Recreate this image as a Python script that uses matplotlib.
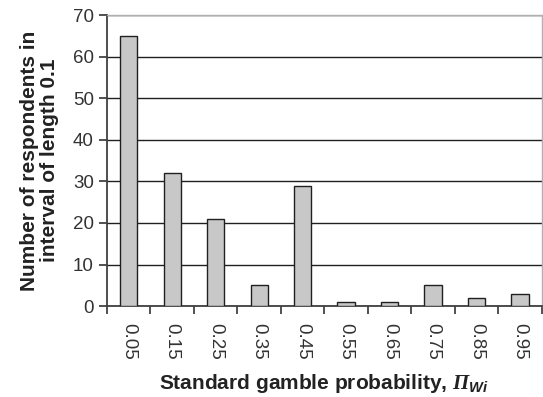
import numpy as np
import matplotlib.pyplot as plt

plt.rcParams['font.family'] = ['Liberation Sans', 'DejaVu Sans']
plt.rcParams['mathtext.fontset'] = 'custom'
plt.rcParams['mathtext.rm'] = 'Liberation Sans'
plt.rcParams['mathtext.bf'] = 'Liberation Sans:bold'
plt.rcParams['mathtext.bfit'] = 'Liberation Serif:bold:italic'
plt.rcParams['mathtext.sf'] = 'Liberation Sans:bold:italic'

# Data
bins = ['0.05', '0.15', '0.25', '0.35', '0.45', '0.55', '0.65', '0.75', '0.85', '0.95']
counts = [65, 32, 21, 5, 29, 1, 1, 5, 2, 3]

fig = plt.figure(figsize=(5.43, 3.97), dpi=100)
ax = fig.add_axes([0.197, 0.229, 0.801, 0.733])

x = np.arange(len(bins))
ax.bar(x, counts, width=0.4, color='#c8c8c8', edgecolor='#202020', linewidth=1.0, zorder=3)

ax.set_xlim(-0.5, len(bins) - 0.5)
ax.set_ylim(0, 70)
ax.set_yticks(range(0, 71, 10))
ax.yaxis.grid(True, color='#202020', linewidth=1.0, zorder=0)
ax.set_axisbelow(True)

ax.set_xticks(x)
ax.set_xticklabels(bins, rotation=270, fontsize=13.5, color='#333333')
ax.set_xticks(np.arange(-0.5, len(bins)), minor=True)
ax.tick_params(axis='x', which='major', length=0, pad=12)
ax.tick_params(axis='x', which='minor', length=6, width=1.2, color='#333333', direction='out')
ax.tick_params(axis='y', length=6, width=1.2, color='#333333', labelsize=13.5, labelcolor='#333333')

for s in ['left', 'bottom']:
    ax.spines[s].set_color('#404040')
    ax.spines[s].set_linewidth(1.3)
for s in ['top', 'right']:
    ax.spines[s].set_color('#b0b0b0')
    ax.spines[s].set_linewidth(1.0)

ax.set_ylabel('Number of respondents in\ninterval of length 0.1', fontsize=15,
              fontweight='bold', color='#222222', labelpad=10, linespacing=1.05)
ax.set_xlabel(r'Standard gamble probability, $\mathbfit{\Pi}_{\mathsf{Wi}}$', fontsize=15,
              fontweight='bold', color='#222222', labelpad=9)

fig.savefig('out.png', dpi=100)
